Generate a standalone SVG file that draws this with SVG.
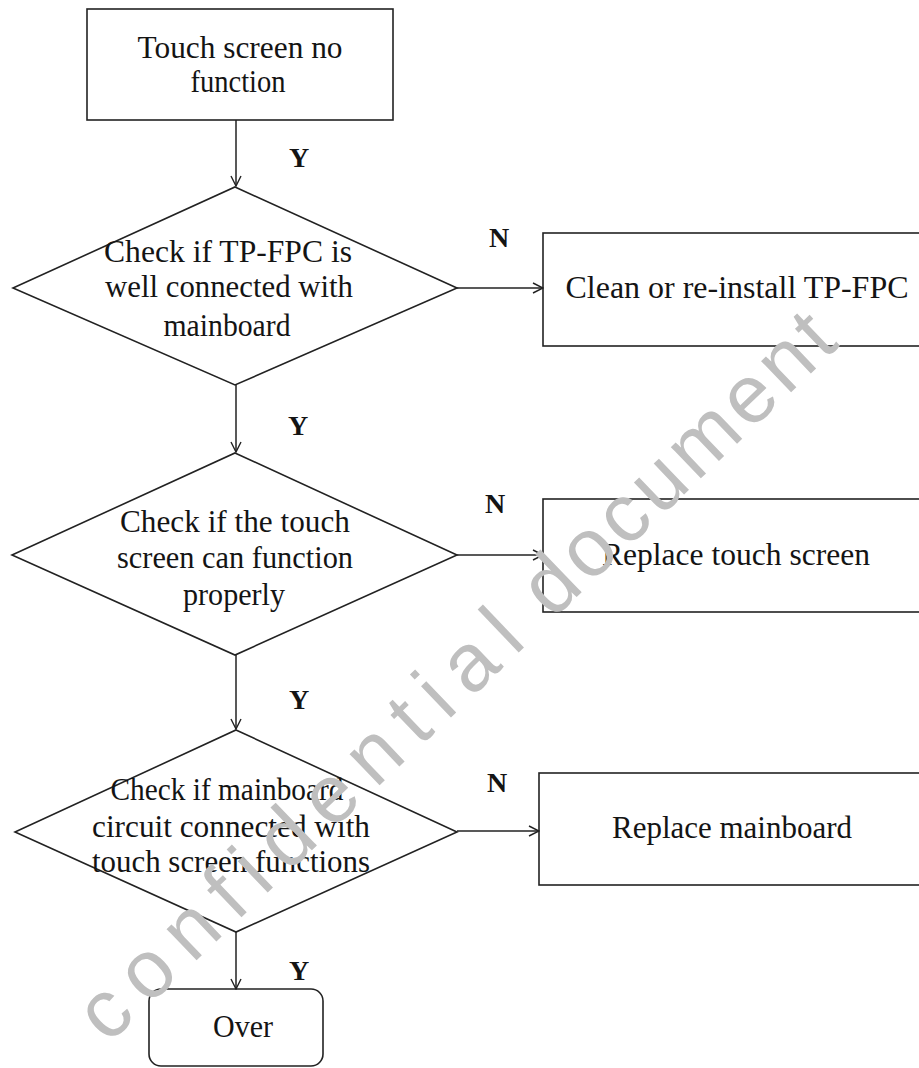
<svg xmlns="http://www.w3.org/2000/svg" width="919" height="1068" viewBox="0 0 919 1068">
<defs>
<style>
.shape{fill:#ffffff;stroke:#222222;stroke-width:1.6}
.t{font-family:"Liberation Serif","Times New Roman",serif;font-size:31px;fill:#141414;text-anchor:middle}
.lbl{font-family:"Liberation Serif","Times New Roman",serif;font-size:28px;font-weight:bold;fill:#141414;text-anchor:middle}
.conn{fill:none;stroke:#222222;stroke-width:1.5}
.wm{font-family:"Liberation Sans",Arial,sans-serif;font-size:82px;fill:#bfbfbf}
</style>
<marker id="arr" viewBox="0 0 12 12" refX="11" refY="6" markerWidth="12" markerHeight="12" markerUnits="userSpaceOnUse" orient="auto">
<path d="M1,1 L11,6 L1,11" fill="none" stroke="#222222" stroke-width="1.4"/>
</marker>
</defs>
<rect width="919" height="1068" fill="#ffffff"/>

<g id="start">
<rect class="shape" x="87" y="9" width="306" height="111"/>
<text class="t" x="240" y="58" textLength="205" lengthAdjust="spacingAndGlyphs">Touch screen no</text>
<text class="t" x="238" y="92" textLength="95" lengthAdjust="spacingAndGlyphs">function</text>
</g>

<g id="check1">
<polygon class="shape" points="235,187 457,288 235,385 13,288"/>
<text class="t" x="228" y="262" textLength="248" lengthAdjust="spacingAndGlyphs">Check if TP-FPC is</text>
<text class="t" x="229" y="297" textLength="248" lengthAdjust="spacingAndGlyphs">well connected with</text>
<text class="t" x="227" y="336" textLength="127" lengthAdjust="spacingAndGlyphs">mainboard</text>
</g>

<g id="fix1">
<rect class="shape" x="543" y="233" width="390" height="113"/>
<text class="t" x="737" y="298" textLength="343" lengthAdjust="spacingAndGlyphs">Clean or re-install TP-FPC</text>
</g>

<g id="check2">
<polygon class="shape" points="235,453 457,555 235,655 12,555"/>
<text class="t" x="235" y="532" textLength="230" lengthAdjust="spacingAndGlyphs">Check if the touch</text>
<text class="t" x="235" y="568" textLength="236" lengthAdjust="spacingAndGlyphs">screen can function</text>
<text class="t" x="234" y="605" textLength="102" lengthAdjust="spacingAndGlyphs">properly</text>
</g>

<g id="fix2">
<rect class="shape" x="543" y="499" width="390" height="113"/>
<text class="t" x="736" y="565" textLength="268" lengthAdjust="spacingAndGlyphs">Replace touch screen</text>
</g>

<g id="check3">
<polygon class="shape" points="236,730 457,832 236,932 15,832"/>
<text class="t" x="227" y="800" textLength="233" lengthAdjust="spacingAndGlyphs">Check if mainboard</text>
<text class="t" x="231" y="837" textLength="278" lengthAdjust="spacingAndGlyphs">circuit connected with</text>
<text class="t" x="231" y="872" textLength="278" lengthAdjust="spacingAndGlyphs">touch screen functions</text>
</g>

<g id="fix3">
<rect class="shape" x="539" y="773" width="394" height="112"/>
<text class="t" x="732" y="838" textLength="240" lengthAdjust="spacingAndGlyphs">Replace mainboard</text>
</g>

<g id="over">
<rect class="shape" x="149" y="989" width="174" height="77" rx="12" ry="12"/>
<text class="t" x="243" y="1037" textLength="60" lengthAdjust="spacingAndGlyphs">Over</text>
</g>

<g id="connectors">
<line class="conn" x1="236" y1="120" x2="236" y2="186" marker-end="url(#arr)"/>
<line class="conn" x1="236" y1="385" x2="236" y2="452" marker-end="url(#arr)"/>
<line class="conn" x1="236" y1="655" x2="236" y2="729" marker-end="url(#arr)"/>
<line class="conn" x1="236" y1="932" x2="236" y2="989" marker-end="url(#arr)"/>
<line class="conn" x1="457" y1="288" x2="543" y2="288" marker-end="url(#arr)"/>
<line class="conn" x1="457" y1="555" x2="543" y2="555" marker-end="url(#arr)"/>
<line class="conn" x1="457" y1="831" x2="539" y2="831" marker-end="url(#arr)"/>
<text class="lbl" x="299" y="167">Y</text>
<text class="lbl" x="298" y="435">Y</text>
<text class="lbl" x="299" y="709">Y</text>
<text class="lbl" x="299" y="980">Y</text>
<text class="lbl" x="499" y="247">N</text>
<text class="lbl" x="495" y="513">N</text>
<text class="lbl" x="497" y="792">N</text>
</g>

<g id="watermark" transform="translate(108,1045) rotate(-43.7)">
<text class="wm" x="0" y="0" textLength="581" lengthAdjust="spacing">confidential</text>
<text class="wm" x="615" y="0" textLength="398" lengthAdjust="spacing">document</text>
</g>
</svg>
